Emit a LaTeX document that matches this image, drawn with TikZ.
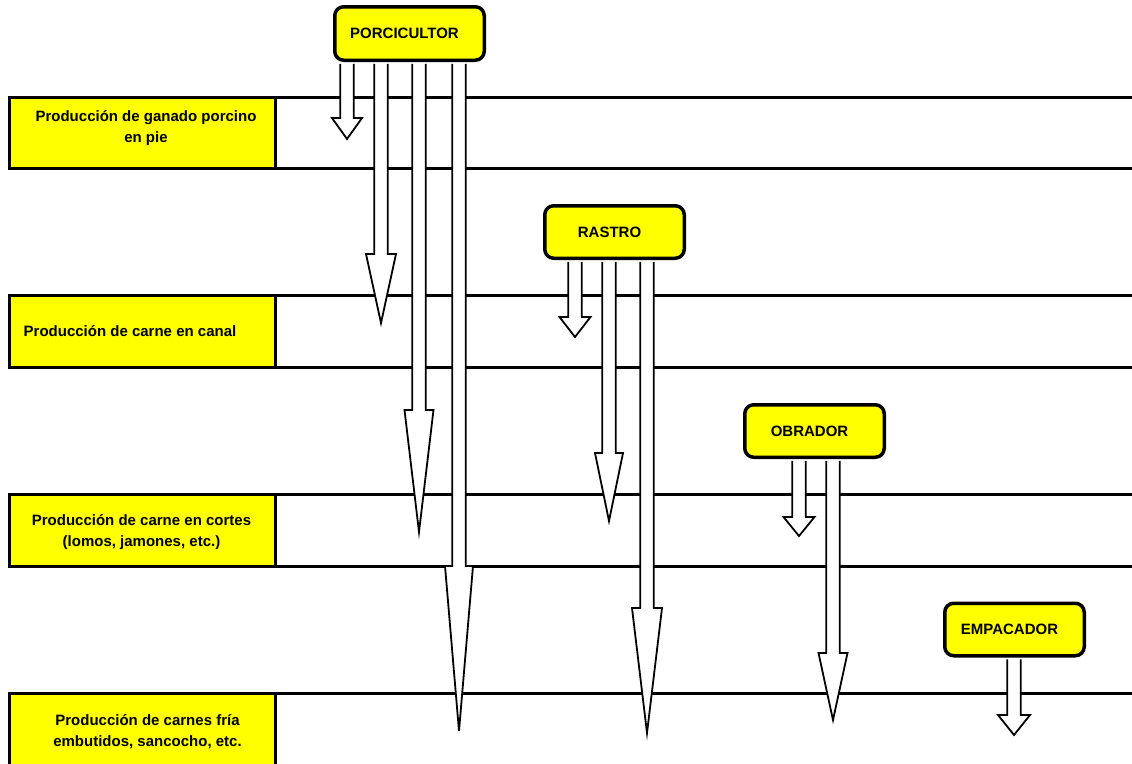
\documentclass[tikz,border=0pt]{standalone}
\usepackage{fontspec}
\setmainfont{Liberation Sans}
\usetikzlibrary{calc}
\definecolor{boxyellow}{RGB}{255,255,0}
\def\shaft{6.8}
% block arrow from the bottom of node #1 down to coordinate #2, head length #3, head half width #4
\newcommand{\blockarrow}[4]{\draw[blockarrow] ($(#2 |- #1.south)+(-\shaft,1.75)$) -- ($(#2)+(-\shaft,-#3)$) -- ($(#2)+(-#4,-#3)$) -- (#2) -- ($(#2)+(#4,-#3)$) -- ($(#2)+(\shaft,-#3)$) -- ($(#2 |- #1.south)+(\shaft,1.75)$);}

\begin{document}
\begin{tikzpicture}[x=1pt,y=-1pt,
	bandline/.style={line width=3pt},
	bandbox/.style={draw,line width=3pt,fill=boxyellow},
	bandtext/.style={align=center,font=\bfseries\fontsize{15}{21}\selectfont},
	actor/.style={draw,line width=3.5pt,fill=boxyellow,rounded corners=9pt,inner sep=0pt,
		minimum width=139.5pt,minimum height=52.5pt,font=\bfseries\fontsize{15}{18}\selectfont,
		execute at end node={\hspace*{10pt}}},
	blockarrow/.style={draw,fill=white,line width=1.8pt}]
			%%%%% START %%%%%
			\useasboundingbox (0,0) rectangle (1132,763);
			
			% bands
			\draw[bandline] (9.5,97.5) -- (1140,97.5);
			\draw[bandline] (9.5,168) -- (1140,168);
			\draw[bandline] (9.5,295.5) -- (1140,295.5);
			\draw[bandline] (9.5,367) -- (1140,367);
			\draw[bandline] (9.5,494) -- (1140,494);
			\draw[bandline] (9.5,566.5) -- (1140,566.5);
			\draw[bandline] (9.5,693) -- (1140,693);
			
			\draw[bandbox] (9.5,97.5) rectangle (275,168);
			\draw[bandbox] (9.5,295.5) rectangle (275,367);
			\draw[bandbox] (9.5,494) rectangle (275,566.5);
			\draw[bandbox] (9.5,693) rectangle (275,780);
			
			\node[bandtext] (ganado) at (146,128) {Producción de ganado porcino\\en pie};
			\node[bandtext] (canal) at (130,331) {Producción de carne en canal};
			\node[bandtext] (cortes) at (141.5,532.5) {Producción de carne en cortes\\(lomos, jamones, etc.)};
			\node[bandtext] (frias) at (147.5,731.5) {Producción de carnes fría\\embutidos, sancocho, etc.};
			
			% actors
			\node[actor,minimum width=149.5pt,minimum height=53.5pt] (porcicultor) at (409.5,33.5) {PORCICULTOR};
			\node[actor] (rastro) at (614.5,232) {RASTRO};
			\node[actor] (obrador) at (814.5,431) {OBRADOR};
			\node[actor] (empacador) at (1014.5,629.5) {EMPACADOR};
			
			% arrow tips
			\coordinate (p1) at (347,139);
			\coordinate (p2) at (381,323);
			\coordinate (p3) at (419,532);
			\coordinate (p4) at (459,731);
			\coordinate (r1) at (575,337);
			\coordinate (r2) at (609,521);
			\coordinate (r3) at (647,733);
			\coordinate (o1) at (799,536);
			\coordinate (o2) at (833,720);
			\coordinate (e1) at (1014,735);
			
			\blockarrow{porcicultor}{p1}{21}{15}
			\blockarrow{porcicultor}{p2}{69}{15}
			\blockarrow{porcicultor}{p3}{122}{14.5}
			\blockarrow{porcicultor}{p4}{165}{14}
			
			\blockarrow{rastro}{r1}{20}{15.5}
			\blockarrow{rastro}{r2}{68}{14}
			\blockarrow{rastro}{r3}{125}{15}
			
			\blockarrow{obrador}{o1}{19}{15.5}
			\blockarrow{obrador}{o2}{67}{14.5}
			
			\blockarrow{empacador}{e1}{20}{16}
			
			%%%%% END %%%%%
\end{tikzpicture}
\end{document}
